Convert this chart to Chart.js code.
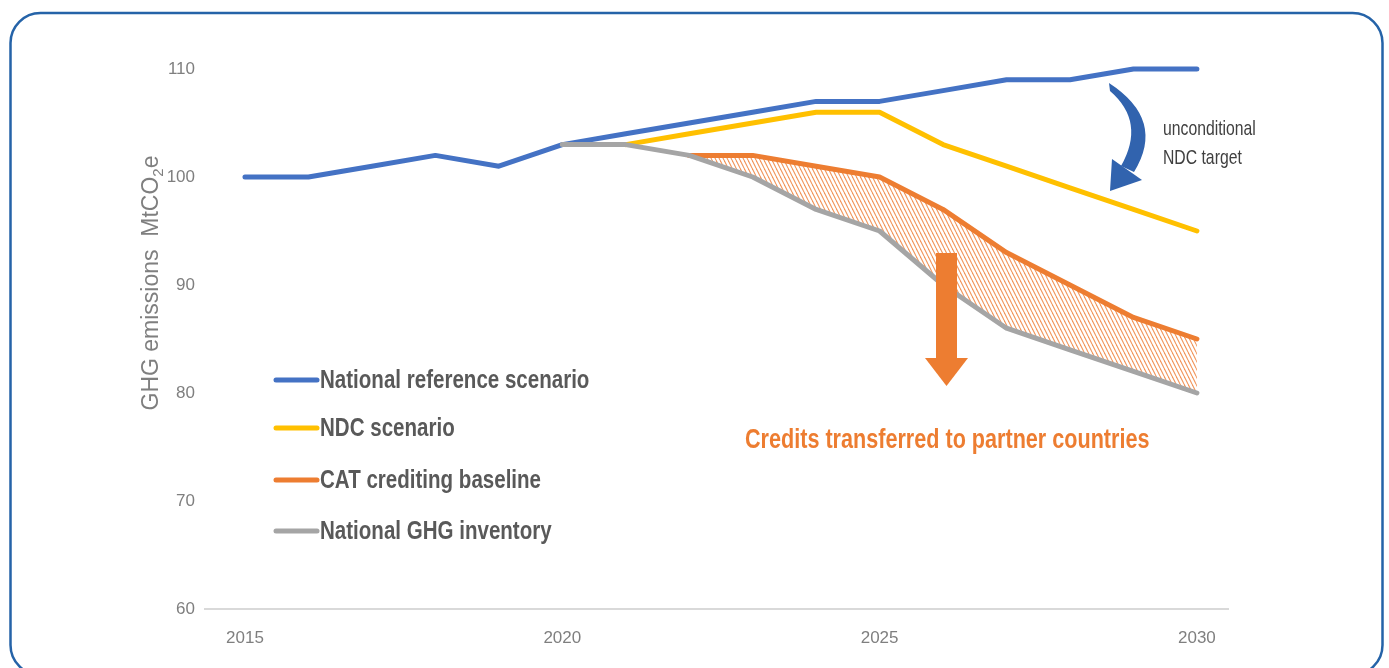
<!DOCTYPE html>
<html>
<head>
<meta charset="utf-8">
<script src="https://cdn.jsdelivr.net/npm/chart.js@4/dist/chart.umd.min.js"></script>
<style>
  html, body { margin: 0; padding: 0; background: #fff; }
  #wrap { width: 1389px; height: 668px; position: relative; }
</style>
</head>
<body>
<div id="wrap"><canvas id="ghgChart"></canvas></div>
<script>
// Chart data
const years = [2015, 2016, 2017, 2018, 2019, 2020, 2021, 2022, 2023, 2024, 2025, 2026, 2027, 2028, 2029, 2030];
const nationalReference = [100, 100, 101, 102, 101, 103, 104, 105, 106, 107, 107, 108, 109, 109, 110, 110];
const ndcScenario = [null, null, null, null, null, null, 103, 104, 105, 106, 106, 103, 101, 99, 97, 95];
const catBaseline = [null, null, null, null, null, null, null, 102, 102, 101, 100, 97, 93, 90, 87, 85];
const ghgInventory = [null, null, null, null, null, 103, 103, 102, 100, 97, 95, 90, 86, 84, 82, 80];
const xTickValues = [2015, 2020, 2025, 2030];
const yTickValues = [60, 70, 80, 90, 100, 110];

const seriesNames = ['National reference scenario', 'NDC scenario', 'CAT crediting baseline', 'National GHG inventory'];
const seriesColors = ['#4472c4', '#ffc000', '#ed7d31', '#a5a5a5'];

const sans = "Arial, 'Liberation Sans', sans-serif";

// Hatched pattern for the credits area
function makeHatch() {
    const c = document.createElement('canvas');
    c.width = 4;
    c.height = 8;
    const g = c.getContext('2d');
    g.strokeStyle = '#f2955a';
    g.lineWidth = 1.1;
    [-4, 0, 4].forEach(function(dx) {
        g.beginPath();
        g.moveTo(dx, 0);
        g.lineTo(dx + 4, 8);
        g.stroke();
    });
    return g.createPattern(c, 'repeat');
}

// condensed text helper
function narrowText(ctx, text, x, y, font, sx) {
    ctx.save();
    ctx.translate(x, y);
    ctx.scale(sx, 1);
    ctx.font = font;
    ctx.fillText(text, 0, 0);
    ctx.restore();
}

const canvas = document.getElementById('ghgChart');
const hatch = makeHatch();

// Extra drawing: frame, legend, arrows, notes, y title
const decor = {
    id: 'decor',
    afterDraw(chart) {
        const ctx = chart.ctx;
        ctx.save();

        // rounded frame
        ctx.strokeStyle = '#2563a8';
        ctx.lineWidth = 2.5;
        ctx.beginPath();
        ctx.roundRect(10.5, 13, 1372, 662, 30);
        ctx.stroke();

        // legend
        const legendY = [380, 428, 480, 531];
        ctx.textBaseline = 'middle';
        ctx.textAlign = 'left';
        chart.data.datasets.forEach(function(ds, i) {
            ctx.strokeStyle = ds.borderColor;
            ctx.lineWidth = 5;
            ctx.lineCap = 'round';
            ctx.beginPath();
            ctx.moveTo(276, legendY[i]);
            ctx.lineTo(317, legendY[i]);
            ctx.stroke();
            ctx.fillStyle = '#595959';
            narrowText(ctx, ds.label, 320, legendY[i] + 1, 'bold 26px ' + sans, 0.79);
        });

        // orange down arrow
        ctx.fillStyle = '#ed7d31';
        ctx.fillRect(936, 253, 21, 106);
        ctx.beginPath();
        ctx.moveTo(925, 358);
        ctx.lineTo(968, 358);
        ctx.lineTo(946.5, 386);
        ctx.closePath();
        ctx.fill();

        narrowText(ctx, 'Credits transferred to partner countries', 745, 441, 'bold 27px ' + sans, 0.8);

        // blue curved arrow
        ctx.fillStyle = '#3163ae';
        ctx.beginPath();
        ctx.moveTo(1109, 83);
        ctx.quadraticCurveTo(1166, 120, 1134, 172);
        ctx.lineTo(1121, 166);
        ctx.quadraticCurveTo(1146, 122, 1110, 91);
        ctx.closePath();
        ctx.fill();
        ctx.beginPath();
        ctx.moveTo(1112, 159);
        ctx.lineTo(1142, 180);
        ctx.lineTo(1110, 191);
        ctx.closePath();
        ctx.fill();

        ctx.fillStyle = '#404040';
        narrowText(ctx, 'unconditional', 1163, 129, '21px ' + sans, 0.75);
        narrowText(ctx, 'NDC target', 1163, 158, '21px ' + sans, 0.75);

        // y axis title with subscript
        ctx.translate(152, 283);
        ctx.rotate(-Math.PI / 2);
        ctx.fillStyle = '#7f7f7f';
        const main = 'GHG emissions  MtCO';
        ctx.font = '23px ' + sans;
        const w1 = ctx.measureText(main).width;
        ctx.font = '15px ' + sans;
        const w2 = ctx.measureText('2').width;
        ctx.font = '23px ' + sans;
        const w3 = ctx.measureText('e').width;
        const x0 = -(w1 + w2 + w3) / 2;
        ctx.fillText(main, x0, 0);
        ctx.font = '15px ' + sans;
        ctx.fillText('2', x0 + w1, 7);
        ctx.font = '23px ' + sans;
        ctx.fillText('e', x0 + w1 + w2, 0);

        ctx.restore();
    }
};

const lineStyle = {
    borderWidth: 5,
    pointRadius: 0,
    pointHoverRadius: 0,
    tension: 0,
    borderCapStyle: 'round',
    borderJoinStyle: 'round',
    clip: 10,
    fill: false
};

const emissionsChart = new Chart(canvas, {
    type: 'line',
    data: {
        labels: years,
        datasets: [
            { ...lineStyle, label: seriesNames[0], data: nationalReference, borderColor: seriesColors[0], order: 2 },
            { ...lineStyle, label: seriesNames[1], data: ndcScenario, borderColor: seriesColors[1], order: 3 },
            { ...lineStyle, label: seriesNames[2], data: catBaseline, borderColor: seriesColors[2], order: 1,
              fill: { target: 3 }, backgroundColor: hatch },
            { ...lineStyle, label: seriesNames[3], data: ghgInventory, borderColor: seriesColors[3], order: 0 }
        ]
    },
    options: {
        responsive: true,
        maintainAspectRatio: false,
        animation: false,
        layout: {
            padding: { top: 69, right: 161, left: 0, bottom: 0 }
        },
        plugins: {
            legend: { display: false },
            tooltip: { enabled: false },
            filler: { drawTime: 'beforeDatasetsDraw' }
        },
        scales: {
            x: {
                type: 'linear',
                min: 2014.37,
                max: 2030.49,
                grid: { display: false },
                border: { display: true, color: '#d9d9d9', width: 2 },
                afterBuildTicks: function(scale) {
                    scale.ticks = xTickValues.map(function(v) { return { value: v }; });
                },
                afterFit: function(scale) { scale.height = 59; },
                ticks: {
                    autoSkip: false,
                    maxRotation: 0,
                    padding: 11,
                    color: '#7f7f7f',
                    font: { family: sans, size: 17 },
                    callback: function(v) { return String(v); }
                }
            },
            y: {
                min: 60,
                max: 110,
                grid: { display: false },
                border: { display: false },
                afterBuildTicks: function(scale) {
                    scale.ticks = yTickValues.map(function(v) { return { value: v }; });
                },
                afterFit: function(scale) { scale.width = 205; },
                ticks: {
                    padding: 2,
                    color: '#7f7f7f',
                    font: { family: sans, size: 17 }
                }
            }
        }
    },
    plugins: [decor]
});
</script>
</body>
</html>
